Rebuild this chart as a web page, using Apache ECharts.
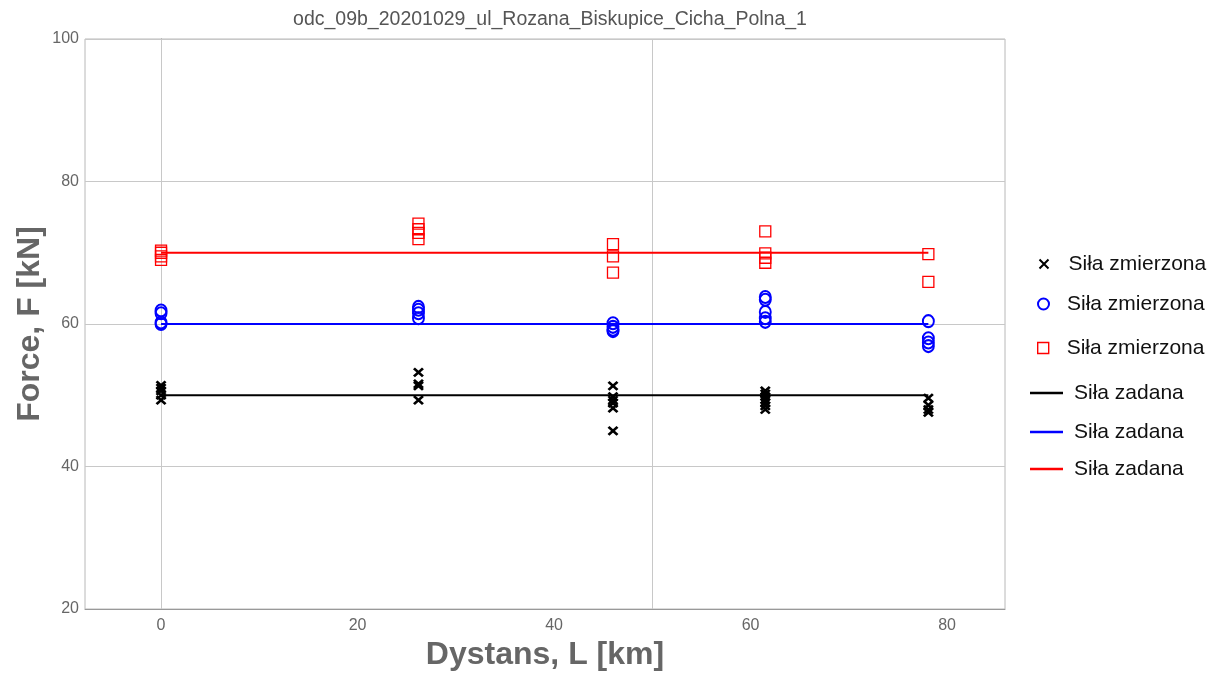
<!DOCTYPE html>
<html>
<head>
<meta charset="utf-8">
<script src="https://cdn.jsdelivr.net/npm/echarts@6/dist/echarts.min.js"></script>
<style>html,body{margin:0;padding:0;background:#fff}#c{width:1227px;height:678px}</style>
</head>
<body>
<div id="c"></div>
<script>
const chartTitle = 'odc_09b_20201029_ul_Rozana_Biskupice_Cicha_Polna_1';
const distances = [0, 26.2, 46.0, 61.5, 78.1];
const measuredBlack = [
  [51.4, 51.0, 50.6, 50.0, 49.3],
  [53.2, 51.6, 51.3, 49.3],
  [51.3, 49.8, 49.3, 48.9, 48.2, 45.0],
  [50.6, 50.2, 49.8, 49.4, 49.0, 48.5, 48.0],
  [49.6, 48.6, 48.0, 47.6]
];
const measuredBlue = [
  [61.9, 61.5, 60.2, 60.0],
  [62.4, 62.0, 61.5, 60.8],
  [60.1, 59.6, 59.2, 59.0],
  [63.8, 63.4, 61.7, 60.8, 60.3],
  [60.4, 58.0, 57.4, 56.9]
];
const measuredRed = [
  [70.3, 70.0, 69.5, 69.0],
  [74.1, 73.3, 72.8, 71.9],
  [71.2, 69.5, 67.2],
  [73.0, 69.9, 69.3, 68.6],
  [69.8, 65.9]
];
const setValues = [50, 60, 70];
const xTicks = [0, 20, 40, 60, 80];
const xGridAt = [0, 50];
const measuredName = 'Siła zmierzona';
const setName = 'Siła zadana';

const colors = ['#000000', '#0000ff', '#ff0000'];
const FONT = '"Liberation Sans", Arial, sans-serif';

function pts(groups) {
  const out = [];
  groups.forEach((g, i) => g.forEach(v => out.push([distances[i], v])));
  return out;
}
const zw = n => '\u200b'.repeat(n);

const series = [];
setValues.forEach((v, i) => {
  series.push({
    name: setName + zw(i),
    type: 'line',
    data: distances.map(d => [d, v]),
    symbol: 'none',
    lineStyle: { color: colors[i], width: 2 },
    itemStyle: { color: colors[i] },
    z: 2,
    silent: true,
    markLine: i === 0 ? {
      silent: true, symbol: 'none', label: { show: false },
      lineStyle: { color: '#c8c8c8', width: 1, type: 'solid' },
      data: xGridAt.map(x => ({ xAxis: x })),
      z: 1
    } : undefined
  });
});
series.push({
  name: measuredName, type: 'scatter', data: pts(measuredBlack),
  symbol: 'path://M0,0L10,10M10,0L0,10', symbolSize: [9, 8],
  itemStyle: { color: 'none', borderColor: '#000', borderWidth: 2.6, opacity: 1 }, z: 3
});
series.push({
  name: measuredName + zw(1), type: 'scatter', data: pts(measuredBlue),
  symbol: 'circle', symbolSize: [11, 12],
  itemStyle: { color: 'rgba(0,0,0,0)', borderColor: '#0000ff', borderWidth: 2, opacity: 1 }, z: 3
});
series.push({
  name: measuredName + zw(2), type: 'scatter', data: pts(measuredRed),
  symbol: 'rect', symbolSize: [11, 11],
  itemStyle: { color: 'rgba(0,0,0,0)', borderColor: '#ff0000', borderWidth: 1.3, opacity: 1 }, z: 3
});

function ts(padLeft) {
  return { fontFamily: FONT, fontSize: 21, color: '#111', lineHeight: 24, padding: [0, 0, 0, padLeft] };
}
function legend(name, left, cy, opts) {
  return Object.assign({
    data: [name], left: left, top: cy - 12, padding: 0, selectedMode: false,
    orient: 'vertical',
    formatter: n => n.replace(/\u200b/g, '')
  }, opts);
}

const legends = [
  legend(measuredName, 1037, 264, { itemWidth: 9, itemHeight: 9, textStyle: ts(15) }),
  legend(measuredName + zw(1), 1037, 304, { itemWidth: 11, itemHeight: 13, textStyle: ts(13) }),
  legend(measuredName + zw(2), 1037, 348, { itemWidth: 11, itemHeight: 11, itemStyle: { borderWidth: 1.4 }, textStyle: ts(13) }),
  legend(setName, 1030, 393, { icon: 'rect', itemWidth: 33, itemHeight: 2.5, textStyle: ts(6) }),
  legend(setName + zw(1), 1030, 432, { icon: 'rect', itemWidth: 33, itemHeight: 2.5, textStyle: ts(6) }),
  legend(setName + zw(2), 1030, 469, { icon: 'rect', itemWidth: 33, itemHeight: 2.5, textStyle: ts(6) })
];

const chart = echarts.init(document.getElementById('c'), null, { renderer: 'canvas' });
chart.setOption({
  backgroundColor: '#ffffff',
  animation: false,
  title: {
    text: chartTitle, left: 545, top: 5, textAlign: 'center',
    textStyle: { fontFamily: FONT, fontSize: 19.5, fontWeight: 'normal', color: '#555' }
  },
  legend: legends,
  grid: { left: 85, right: 222, top: 39, bottom: 69, show: true, borderColor: '#b8b8b8', borderWidth: 1, backgroundColor: 'transparent' },
  xAxis: {
    type: 'value', min: -7.74, max: 85.9,
    name: 'Dystans, L [km]', nameLocation: 'middle', nameGap: 22,
    nameTextStyle: { fontFamily: FONT, fontSize: 32, fontWeight: 'bold', color: '#666' },
    axisLine: { show: true, onZero: false, lineStyle: { color: '#999', width: 1 } },
    axisTick: { show: false },
    splitLine: { show: false },
    axisLabel: {
      fontFamily: FONT, fontSize: 16, color: '#666', margin: 9,
      showMinLabel: false, showMaxLabel: false,
      formatter: v => (xTicks.indexOf(Math.round(v * 1000) / 1000) >= 0 ? String(v) : '')
    }
  },
  yAxis: {
    type: 'value', min: 20, max: 100, interval: 20,
    name: 'Force, F [kN]', nameLocation: 'middle', nameGap: 39, nameRotate: 90,
    nameMoveOverlap: false,
    nameTextStyle: { fontFamily: FONT, fontSize: 32, fontWeight: 'bold', color: '#666' },
    axisLine: { show: true, lineStyle: { color: '#888', width: 1 } },
    axisTick: { show: false },
    splitLine: { show: true, lineStyle: { color: '#c8c8c8', width: 1 } },
    axisLabel: { fontFamily: FONT, fontSize: 16, color: '#666', margin: 6 }
  },
  series: series
});
</script>
</body>
</html>
